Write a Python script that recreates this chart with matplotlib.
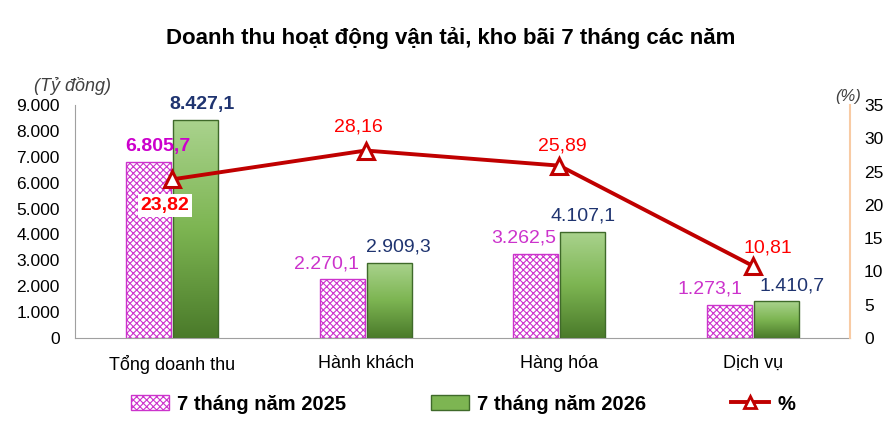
import matplotlib
matplotlib.use("Agg")
import matplotlib.pyplot as plt
import numpy as np
from matplotlib.patches import Patch
from matplotlib.lines import Line2D

plt.rcParams['font.family'] = ['Liberation Sans', 'DejaVu Sans']
plt.rcParams['hatch.linewidth'] = 0.8

categories = ["Tổng doanh thu", "Hành khách", "Hàng hóa", "Dịch vụ"]
rev_2025 = [6805.7, 2270.1, 3262.5, 1273.1]
rev_2026 = [8427.1, 2909.3, 4107.1, 1410.7]
growth = [23.82, 28.16, 25.89, 10.81]
labels_2025 = ["6.805,7", "2.270,1", "3.262,5", "1.273,1"]
labels_2026 = ["8.427,1", "2.909,3", "4.107,1", "1.410,7"]
labels_growth = ["23,82", "28,16", "25,89", "10,81"]
left_ticks = [0, 1000, 2000, 3000, 4000, 5000, 6000, 7000, 8000, 9000]
left_ticklabels = ["0", "1.000", "2.000", "3.000", "4.000", "5.000", "6.000", "7.000", "8.000", "9.000"]
right_ticks = [0, 5, 10, 15, 20, 25, 30, 35]

# label nudges (points), as placed in the original chart
nudge_2025 = [7, -11.5, -8.5, -14]
nudge_2026 = [5, 6.5, 0, 11]
nudge_growth = [(-5, -18.5), (-5, 17), (2, 14), (10.5, 13)]

PINK = "#CC33CC"
NAVY = "#1F3470"
RED = "#C00000"
LABEL_RED = "#FF0000"

fig = plt.figure(figsize=(8.95, 4.21), dpi=100)
ax = fig.add_axes([75 / 895, 1 - 338 / 421, 775 / 895, 233 / 421])
ax2 = ax.twinx()

x = np.arange(len(categories))
w = 0.232
off = 0.121

bars1 = ax.bar(x - off, rev_2025, w, facecolor="white", edgecolor=PINK,
               hatch="xxxxx", linewidth=1.0, zorder=2)
bars2 = ax.bar(x + off, rev_2026, w, facecolor="none", edgecolor="#3F6A2A",
               linewidth=1.0, zorder=3)

# gradient fill for green bars
grad = np.linspace(0, 1, 256).reshape(-1, 1)
cmap = matplotlib.colors.LinearSegmentedColormap.from_list(
    "g", ["#4A7A2A", "#7DB552", "#AAD38E"])
for b in bars2:
    bx, by = b.get_x(), b.get_y()
    bw, bh = b.get_width(), b.get_height()
    im = ax.imshow(grad, cmap=cmap, origin="lower", aspect="auto",
                   extent=[bx, bx + bw, by, by + bh], zorder=2.5)
    im.set_clip_path(b)

ax.set_xlim(-0.5, 3.5)
ax.set_ylim(0, 9000)
ax.set_yticks(left_ticks)
ax.set_yticklabels(left_ticklabels)
ax.set_xticks(x)
ax.set_xticklabels(categories)
ax.tick_params(axis="y", length=0, labelsize=12.5, pad=11)
ax.tick_params(axis="x", length=0, labelsize=13, pad=12)

ax2.set_ylim(0, 35)
ax2.set_yticks(right_ticks)
ax2.tick_params(axis="y", length=0, labelsize=12.5, pad=10)

for a in (ax, ax2):
    a.spines["top"].set_visible(False)
ax.spines["left"].set_color("#A0A0A0")
ax.spines["bottom"].set_color("#A0A0A0")
ax2.spines["left"].set_visible(False)
ax2.spines["bottom"].set_visible(False)
ax2.spines["right"].set_color("#F8CBA4")
ax2.spines["right"].set_linewidth(1.5)
ax.spines["right"].set_visible(False)

ax2.plot(x, growth, color=RED, linewidth=2.8, marker="^", markersize=11,
         markerfacecolor="white", markeredgecolor=RED, markeredgewidth=2.2,
         zorder=5)

# bar labels
for i in range(len(categories)):
    bold = "bold" if i == 0 else "normal"
    ax.annotate(labels_2025[i], (x[i] - off, rev_2025[i]), xytext=(nudge_2025[i], 8),
                textcoords="offset points", ha="center", va="baseline",
                color=PINK if i else "#CC00CC", fontsize=14, fontweight=bold)
    ax.annotate(labels_2026[i], (x[i] + off, rev_2026[i]), xytext=(nudge_2026[i], 8),
                textcoords="offset points", ha="center", va="baseline",
                color=NAVY, fontsize=14, fontweight=bold)

# growth labels
for i in range(len(categories)):
    if i == 0:
        ax2.annotate(labels_growth[i], (x[i], growth[i]), xytext=nudge_growth[i],
                     textcoords="offset points", ha="center", va="center",
                     color=LABEL_RED, fontsize=14, fontweight="bold", zorder=6,
                     bbox=dict(boxstyle="square,pad=0.15", facecolor="white",
                               edgecolor="none"))
    else:
        ax2.annotate(labels_growth[i], (x[i], growth[i]), xytext=nudge_growth[i],
                     textcoords="offset points", ha="center", va="center",
                     color=LABEL_RED, fontsize=14, zorder=6)

fig.text(73 / 895, 1 - 86 / 421, "(Tỷ đồng)", ha="center", va="center",
         fontsize=13, style="italic", color="#404040")
fig.text(848 / 895, 1 - 97 / 421, "(%)", ha="center", va="center",
         fontsize=12, style="italic", color="#404040")
fig.text(451 / 895, 1 - 38 / 421,
         "Doanh thu hoạt động vận tải, kho bãi 7 tháng các năm",
         ha="center", va="center", fontsize=16, fontweight="bold")

handles = [
    Patch(facecolor="white", edgecolor=PINK, hatch="xxxxx", label="7 tháng năm 2025"),
    Patch(facecolor="#7DB552", edgecolor="#3F6A2A", label="7 tháng năm 2026"),
    Line2D([0], [0], color=RED, linewidth=2.8, marker="^", markersize=8,
           markerfacecolor="white", markeredgecolor=RED, markeredgewidth=2,
           label="%"),
]
fig.legend(handles=handles, loc="center", bbox_to_anchor=(463 / 895, 1 - 404 / 421),
           ncol=3, frameon=False, prop={"size": 14.5, "weight": "bold"},
           columnspacing=4.2, handlelength=1.9, handletextpad=0.4,
           borderpad=0.2)

fig.savefig("out.png", dpi=100)
